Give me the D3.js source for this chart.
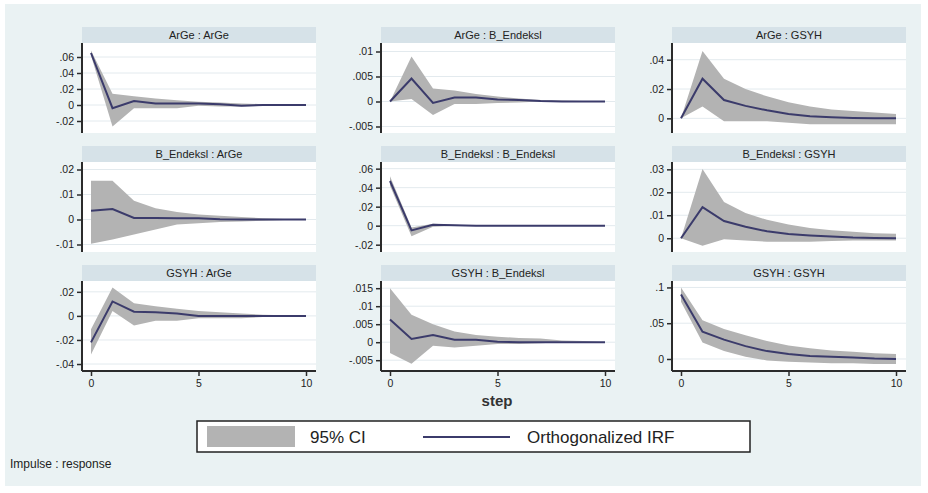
<!DOCTYPE html>
<html><head><meta charset="utf-8">
<script src="https://cdn.jsdelivr.net/npm/d3@7"></script>
<style>body{margin:0;background:#fff}svg{display:block}text{font-family:"Liberation Sans",Arial,sans-serif}</style>
</head><body><svg id="c" width="928" height="493"></svg>
<script>
const steps = [0,1,2,3,4,5,6,7,8,9,10];
const titles = ["ArGe : ArGe","ArGe : B_Endeksl","ArGe : GSYH",
                "B_Endeksl : ArGe","B_Endeksl : B_Endeksl","B_Endeksl : GSYH",
                "GSYH : ArGe","GSYH : B_Endeksl","GSYH : GSYH"];
const irf = [
 [0.065,-0.004,0.005,0.002,0.002,0.002,0.001,-0.001,0,0,0],
 [0,0.0046,-0.0003,0.0008,0.0008,0.0004,0.0003,0.0001,0,0,0],
 [0,0.027,0.0125,0.0085,0.0055,0.003,0.0015,0.0008,0.0003,0,0],
 [0.0035,0.0042,0.0006,0.0006,0.0005,0.0005,0.0001,0,0,0,0],
 [0.047,-0.005,0.001,0.0005,0,0,0,0,0,0,0],
 [0,0.0135,0.0075,0.005,0.003,0.0018,0.0012,0.0008,0.0003,0.0001,0],
 [-0.022,0.012,0.0035,0.003,0.002,0,0,0,0,0,0],
 [0.0063,0.0009,0.002,0.0007,0.0007,0.0001,0,0,0,0,0],
 [0.09,0.038,0.027,0.018,0.011,0.007,0.004,0.003,0.002,0.0005,0]
];
const ciHi = [
 [0.068,0.014,0.011,0.008,0.006,0.004,0.003,0.002,0.001,0.0005,0],
 [0,0.009,0.0026,0.0022,0.0015,0.001,0.0006,0.0003,0.0002,0.0001,0],
 [0,0.046,0.027,0.02,0.015,0.011,0.008,0.006,0.005,0.004,0.003],
 [0.0155,0.0155,0.0075,0.0045,0.003,0.002,0.0015,0.001,0.0005,0.0002,0],
 [0.052,-0.002,0.002,0.001,0,0,0,0,0,0,0],
 [0,0.0302,0.0158,0.011,0.008,0.006,0.0045,0.0035,0.0028,0.0022,0.002],
 [-0.011,0.0236,0.0106,0.008,0.006,0.004,0.003,0.002,0.001,0.0005,0],
 [0.015,0.0076,0.005,0.003,0.002,0.0015,0.0012,0.001,0.0005,0.0003,0],
 [0.1,0.054,0.042,0.033,0.025,0.019,0.015,0.012,0.01,0.008,0.007]
];
const ciLo = [
 [0.062,-0.027,-0.004,-0.004,-0.004,-0.001,-0.002,-0.002,-0.001,0,0],
 [0,0.0005,-0.0027,-0.0005,-0.0005,-0.0003,-0.0002,0,0,0,0],
 [0,0.008,-0.002,-0.002,-0.002,-0.003,-0.004,-0.004,-0.004,-0.004,-0.004],
 [-0.0097,-0.008,-0.006,-0.004,-0.002,-0.0015,-0.001,-0.0008,-0.0005,-0.0002,0],
 [0.042,-0.011,-0.001,0,0,0,0,0,0,0,0],
 [0,-0.0033,-0.0005,-0.001,-0.0015,-0.0015,-0.0015,-0.0012,-0.001,-0.001,-0.001],
 [-0.032,0.004,-0.008,-0.004,-0.004,-0.002,-0.002,-0.002,-0.001,-0.0005,0],
 [-0.003,-0.006,-0.001,-0.0015,-0.001,-0.0005,-0.0005,-0.0003,0,0,0],
 [0.08,0.023,0.011,0.003,-0.002,-0.004,-0.005,-0.006,-0.006,-0.007,-0.007]
];
const yDomains = [
 [-0.035,0.0775],[-0.0063,0.0117],[-0.010,0.0514],
 [-0.013,0.023],[-0.0277,0.067],[-0.006,0.0332],
 [-0.0458,0.029],[-0.008,0.017],[-0.0168,0.109]
];
const yTicks = [
 [-0.02,0,0.02,0.04,0.06],[-0.005,0,0.005,0.01],[0,0.02,0.04],
 [-0.01,0,0.01,0.02],[-0.02,0,0.02,0.04,0.06],[0,0.01,0.02,0.03],
 [-0.04,-0.02,0,0.02],[-0.005,0,0.005,0.01,0.015],[0,0.05,0.1]
];
const xTicks = [0,5,10];
const legendLabels = ["95% CI","Orthogonalized IRF"];
const xTitle = "step";
const note = "Impulse : response";

const svg = d3.select("#c");
const bgCol = "#eaf2f3", barCol = "#d6e2e8", bandCol = "#b3b3b3", lineCol = "#3b3b6b", axCol = "#2b2b2b";
svg.append("rect").attr("x",5).attr("y",4).attr("width",916).attr("height",482).attr("fill",bgCol);

const colLeft = [82,381,672], rowTop = [27,146,265];
const pw = 234, th = 16, ph = 90;
const fmt = v => { if (v===0) return "0"; let s = String(+v.toFixed(4)); return s.replace(/^(-?)0\./,"$1."); };

titles.forEach((t,i) => {
  const c = i%3, r = Math.floor(i/3);
  const L = colLeft[c], T = rowTop[r];
  const g = svg.append("g");
  g.append("rect").attr("x",L).attr("y",T).attr("width",pw).attr("height",th).attr("fill",barCol);
  g.append("text").attr("x",L+pw/2).attr("y",T+12).attr("text-anchor","middle").attr("font-size",11).attr("fill","#222").text(t);
  const top = T+th, bot = top+ph;
  g.append("rect").attr("x",L).attr("y",top).attr("width",pw).attr("height",ph).attr("fill","#fff");
  const x = d3.scaleLinear().domain([0,10]).range([L+9,L+224]);
  const y = d3.scaleLinear().domain(yDomains[i]).range([bot,top]);
  // grid
  g.selectAll(".gl").data(yTicks[i]).enter().append("line")
    .attr("x1",L).attr("x2",L+pw).attr("y1",d=>y(d)).attr("y2",d=>y(d))
    .attr("stroke","#e3eaee").attr("stroke-width",1);
  const area = d3.area().x(d=>x(d)).y0((d,k)=>y(ciLo[i][k])).y1((d,k)=>y(ciHi[i][k]));
  g.append("path").datum(steps).attr("d",area).attr("fill",bandCol);
  const line = d3.line().x(d=>x(d)).y((d,k)=>y(irf[i][k]));
  g.append("path").datum(steps).attr("d",line).attr("fill","none").attr("stroke",lineCol).attr("stroke-width",2);
  const ya = g.append("g").attr("transform",`translate(${L},0)`)
    .call(d3.axisLeft(y).tickValues(yTicks[i]).tickFormat(fmt).tickSize(5).tickPadding(3));
  ya.select(".domain").attr("stroke",axCol).attr("stroke-width",2).attr("d",`M0,${top}V${bot}`);
  ya.selectAll(".tick line").attr("stroke",axCol).attr("stroke-width",1.5);
  ya.selectAll("text").attr("font-size",10.5).attr("fill","#222").style("font-family","'Liberation Sans',Arial,sans-serif");
  if (r===2) {
    const xa = g.append("g").attr("transform",`translate(0,${bot})`)
      .call(d3.axisBottom(x).tickValues(xTicks).tickFormat(d3.format("d")).tickSize(5).tickPadding(4));
    xa.select(".domain").attr("stroke",axCol).attr("stroke-width",2).attr("d",`M${L},0H${L+pw}`);
    xa.selectAll(".tick line").attr("stroke",axCol).attr("stroke-width",1.5);
    xa.selectAll("text").attr("font-size",10.5).attr("fill","#222").style("font-family","'Liberation Sans',Arial,sans-serif");
  }
});

svg.append("text").attr("x",497).attr("y",406).attr("text-anchor","middle").attr("font-size",15).attr("font-weight","bold").attr("fill","#333").text(xTitle);

const lg = svg.append("g");
lg.append("rect").attr("x",197).attr("y",421).attr("width",553).attr("height",31).attr("fill","#fff").attr("stroke","#222").attr("stroke-width",1.5);
lg.append("rect").attr("x",207).attr("y",426).attr("width",88).attr("height",21).attr("fill",bandCol);
lg.append("text").attr("x",310).attr("y",443).attr("font-size",17).attr("fill","#222").text(legendLabels[0]);
lg.append("line").attr("x1",423).attr("x2",510).attr("y1",437).attr("y2",437).attr("stroke",lineCol).attr("stroke-width",2);
lg.append("text").attr("x",527).attr("y",443).attr("font-size",17).attr("fill","#222").text(legendLabels[1]);

svg.append("text").attr("x",10).attr("y",468).attr("font-size",12).attr("fill","#222").text(note);
</script></body></html>
